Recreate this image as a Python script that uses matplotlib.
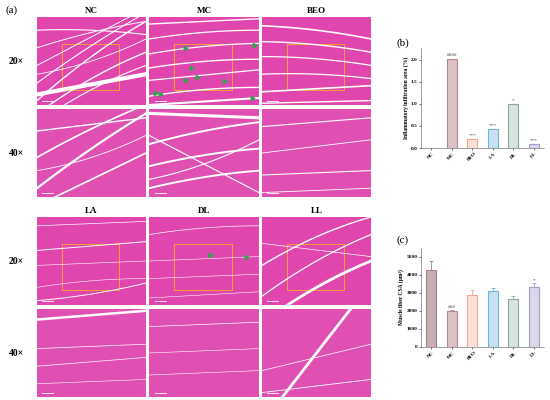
import numpy as np
import matplotlib.pyplot as plt
from matplotlib.patches import Rectangle

plt.rcParams['font.family'] = ['Liberation Serif', 'DejaVu Serif']

groups = ["NC", "MC", "BEO", "LA", "DL", "LL"]
infiltration = [0.0, 2.03, 0.20, 0.43, 1.00, 0.10]
infiltration_marks = ["", "####", "***", "***", "*", "***"]
csa = [4300, 1980, 2870, 3100, 2680, 3330]
csa_err = [500, 80, 280, 200, 180, 200]
csa_marks = ["", "###", "", "", "", "*"]

face_colors = ["#c8aeb0", "#dcc2c5", "#fde0d7", "#c6e2f2", "#d6e4dc", "#dcd8ea"]
edge_colors = ["#a08288", "#ad8b91", "#f3a897", "#6eb4da", "#8aa898", "#a29cc8"]

# white fibre boundaries per micrograph: (y at left, y at right, bend, width)
tissue_lines = {
    ("NC", 20): [(0.05, 0.95, 0.1, 1.0), (0.25, 1.05, 0.05, 0.8), (-0.1, 0.6, 0.1, 1.0),
                 (0.45, 1.1, 0.0, 0.7), (0.12, 0.35, 0.0, 3.0), (-0.2, 0.45, 0.1, 0.8),
                 (0.65, 0.95, 0.05, 0.7), (0.85, 0.8, 0.05, 0.8), (0.35, 0.75, -0.1, 0.6)],
    ("MC", 20): [(0.92, 0.98, 0.0, 1.0), (0.75, 0.85, 0.05, 0.9), (0.58, 0.7, 0.05, 0.9),
                 (0.42, 0.52, 0.05, 1.0), (0.28, 0.4, 0.0, 0.9), (0.1, 0.2, 0.05, 1.0),
                 (0.0, 0.08, 0.0, 1.5)],
    ("BEO", 20): [(0.9, 0.75, 0.05, 1.2), (0.72, 0.6, 0.05, 1.0), (0.55, 0.45, 0.05, 0.9),
                  (0.35, 0.3, 0.05, 0.9), (0.15, 0.22, 0.0, 1.2), (0.02, 0.05, 0.0, 1.0)],
    ("NC", 40): [(0.1, 0.95, 0.05, 1.6), (0.45, 1.05, 0.05, 1.2), (-0.1, 0.5, 0.0, 1.2),
                 (0.75, 0.9, 0.0, 1.0), (0.3, 0.7, -0.1, 0.6)],
    ("MC", 40): [(0.95, 0.9, 0.0, 2.2), (0.6, 0.85, 0.05, 1.4), (0.35, 0.55, 0.05, 1.4),
                 (0.1, 0.3, 0.05, 1.4), (0.7, 0.05, 0.0, 0.8), (0.2, 0.65, -0.1, 0.8)],
    ("BEO", 40): [(0.8, 0.9, 0.0, 0.8), (0.5, 0.65, 0.0, 0.6), (0.25, 0.3, 0.0, 0.8),
                  (0.05, 0.1, 0.0, 0.6)],
    ("LA", 20): [(0.9, 0.95, 0.0, 0.5), (0.62, 0.72, 0.0, 0.7), (0.45, 0.5, 0.0, 0.4),
                 (0.05, 0.25, -0.05, 0.7), (0.2, 0.3, 0.05, 0.4)],
    ("DL", 20): [(0.8, 0.9, 0.05, 0.5), (0.5, 0.55, 0.0, 0.4), (0.3, 0.35, 0.0, 0.4),
                 (0.08, 0.15, 0.0, 0.4)],
    ("LL", 20): [(0.45, 1.0, 0.1, 1.0), (0.1, 0.8, 0.1, 0.9), (-0.2, 0.5, 0.1, 2.0),
                 (0.7, 0.55, 0.0, 0.5)],
    ("LA", 40): [(0.88, 0.98, 0.0, 1.8), (0.55, 0.6, 0.0, 0.5), (0.35, 0.45, 0.0, 0.5),
                 (0.15, 0.2, 0.0, 0.4)],
    ("DL", 40): [(0.8, 0.85, 0.0, 0.5), (0.5, 0.55, 0.0, 0.4), (0.25, 0.3, 0.0, 0.4)],
    ("LL", 40): [(-0.3, 1.3, 0.0, 2.0), (0.3, 0.6, 0.0, 0.5), (0.05, 0.2, 0.0, 0.6)],
}
# green arrows on micrographs
arrows = {
    ("MC", 20): [(0.33, 0.65), (0.95, 0.68), (0.38, 0.42), (0.44, 0.32), (0.33, 0.28),
                 (0.68, 0.27), (0.05, 0.14), (0.1, 0.13), (0.94, 0.08)],
    ("DL", 20): [(0.55, 0.57), (0.88, 0.55)],
}

W, H = 550, 400
fig = plt.figure(figsize=(W / 100, H / 100), dpi=100)


def px_axes(x0, y0, x1, y1):
    return fig.add_axes([x0 / W, 1 - y1 / H, (x1 - x0) / W, (y1 - y0) / H])


def micrograph(ax, key, box):
    ax.set_xlim(0, 1)
    ax.set_ylim(0, 1)
    ax.add_patch(Rectangle((0, 0), 1, 1, color="#e046ad" if key[1] == 20 else "#e050b2"))
    t = np.linspace(0, 1, 60)
    for yl, yr, bend, lw in tissue_lines[key]:
        y = yl + (yr - yl) * t + 2 * bend * t * (1 - t)
        ax.plot(t, y, color="white", lw=lw, solid_capstyle="round")
    for x, y in arrows.get(key, []):
        ax.plot(x, y, marker=(3, 0, 30), color="#2aa84a", ms=3.5)
    ax.plot([0.05, 0.15], [0.04, 0.04], color="white", lw=0.6)
    if box:
        ax.add_patch(Rectangle((0.23, 0.17), 0.52, 0.52, fill=False,
                               ec="#f5a030", lw=0.7))
    ax.axis("off")


cols = [(37, 146), (149, 259), (262, 371)]
blocks = [(["NC", "MC", "BEO"], [(17, 105), (109, 197)], 11),
          (["LA", "DL", "LL"], [(217, 305), (309, 397)], 211)]
for names, rows, title_y in blocks:
    for (x0, x1), name in zip(cols, names):
        fig.text((x0 + x1) / 2 / W, 1 - title_y / H, name, ha="center", va="center",
                 fontsize=6.5, fontweight="bold")
        for (y0, y1), mag in zip(rows, [20, 40]):
            micrograph(px_axes(x0, y0, x1, y1), (name, mag), mag == 20)
    for (y0, y1), mag in zip(rows, [20, 40]):
        fig.text(16 / W, 1 - (y0 + y1) / 2 / H, f"{mag}×", ha="center", va="center",
                 fontsize=7, fontweight="bold")

fig.text(12 / W, 1 - 10 / H, "(a)", ha="center", va="center", fontsize=8)
fig.text(403 / W, 1 - 43 / H, "(b)", ha="center", va="center", fontsize=8)
fig.text(403 / W, 1 - 240 / H, "(c)", ha="center", va="center", fontsize=8)

x = np.arange(len(groups))


def style_bars(ax, ylabel):
    ax.set_xlim(-0.5, len(groups) - 0.5)
    ax.set_xticks(x)
    ax.set_xticklabels(groups, rotation=45, fontsize=3.8, fontweight="bold")
    ax.tick_params(axis="both", labelsize=3.8, length=1.5, width=0.4, pad=1)
    ax.set_ylabel(ylabel, fontsize=4, fontweight="bold", labelpad=1.5)
    for s in ["top", "right"]:
        ax.spines[s].set_visible(False)
    for s in ["left", "bottom"]:
        ax.spines[s].set_linewidth(0.4)
        ax.spines[s].set_color("#555555")
    for lab in ax.get_yticklabels():
        lab.set_fontweight("bold")


axb = px_axes(421, 48, 544, 148)
axb.bar(x, infiltration, width=0.5, color=face_colors, edgecolor=edge_colors, lw=0.8)
for xi, v, m in zip(x, infiltration, infiltration_marks):
    if m:
        axb.text(xi, v + 0.03, m, ha="center", va="bottom", fontsize=3.8, color="#444444")
axb.set_ylim(0, 2.27)
axb.set_yticks([0, 0.5, 1.0, 1.5, 2.0])
axb.set_yticklabels(["0.0", "0.5", "1.0", "1.5", "2.0"])
style_bars(axb, "Inflammatory infiltration area (%)")

axc = px_axes(421, 248, 544, 347)
axc.bar(x, csa, width=0.5, color=face_colors, edgecolor=edge_colors, lw=0.8)
for xi, v, e, ec in zip(x, csa, csa_err, edge_colors):
    axc.errorbar(xi, v, yerr=[[0], [e]], color=ec, lw=0.6, capsize=1.2, capthick=0.6)
for xi, v, e, m in zip(x, csa, csa_err, csa_marks):
    if m:
        axc.text(xi, v + e + 40, m, ha="center", va="bottom", fontsize=3.8, color="#444444")
axc.set_ylim(0, 5500)
axc.set_yticks([0, 1000, 2000, 3000, 4000, 5000])
style_bars(axc, "Muscle fiber CSA (μm²)")

fig.savefig("out.png", dpi=100)
